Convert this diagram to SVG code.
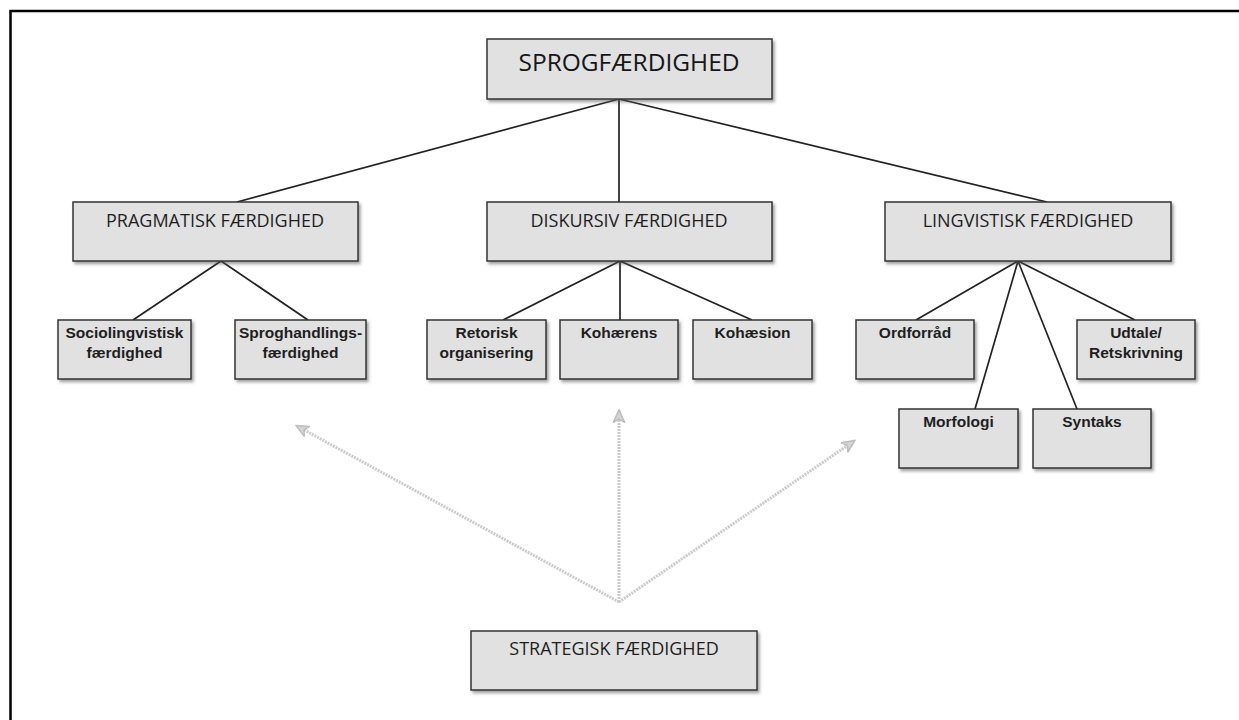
<svg xmlns="http://www.w3.org/2000/svg" width="1239" height="720" viewBox="0 0 1239 720">
<defs>
<filter id="sh" x="-10%" y="-10%" width="130%" height="140%">
<feDropShadow dx="2" dy="2.5" stdDeviation="1.6" flood-color="#555" flood-opacity="0.55"/>
</filter>
<marker id="ah" viewBox="0 0 12 12" refX="10" refY="6" markerWidth="5" markerHeight="5" orient="auto" markerUnits="strokeWidth">
<path d="M1,1.5 L11,6 L1,10.5 L3.5,6 Z" fill="#d4d4d4" stroke="#bdbdbd" stroke-width="1.2" stroke-linejoin="round"/>
</marker>
<style>
.box{fill:#e1e1e1;stroke:#333;stroke-width:1.5;filter:url(#sh)}
.t1{font-family:"Open Sans","DejaVu Sans",sans-serif;font-size:24.5px;fill:#161616;text-anchor:middle}
.t2{font-family:"Open Sans","DejaVu Sans",sans-serif;font-size:18px;fill:#1e1e1e;text-anchor:middle}
.t3{font-family:"Liberation Sans","DejaVu Sans",sans-serif;font-size:15.5px;font-weight:bold;fill:#1e1e1e;text-anchor:middle}
.ln{stroke:#222;stroke-width:1.7;fill:none}
.ar{stroke:#cbcbcb;stroke-width:3;fill:none;stroke-dasharray:2 1;marker-end:url(#ah)}
.frame{stroke:#000;stroke-width:2.5;fill:none}
</style>
</defs>
<rect width="1239" height="720" fill="#fff"/>
<path class="frame" d="M10.5,720 L10.5,11 L1239,11"/>

<g id="connectors">
<line class="ln" x1="619" y1="99" x2="237" y2="202"/>
<line class="ln" x1="619" y1="99" x2="619" y2="202"/>
<line class="ln" x1="619" y1="99" x2="1047" y2="202"/>
<line class="ln" x1="221" y1="261" x2="133" y2="320"/>
<line class="ln" x1="221" y1="261" x2="308" y2="320"/>
<line class="ln" x1="620" y1="261" x2="503" y2="320"/>
<line class="ln" x1="620" y1="261" x2="620" y2="320"/>
<line class="ln" x1="620" y1="261" x2="752" y2="320"/>
<line class="ln" x1="1018" y1="261" x2="916" y2="320"/>
<line class="ln" x1="1018" y1="261" x2="975" y2="409"/>
<line class="ln" x1="1018" y1="261" x2="1077" y2="409"/>
<line class="ln" x1="1018" y1="261" x2="1135" y2="320"/>
<line class="ar" x1="619" y1="602" x2="297" y2="426"/>
<line class="ar" x1="619" y1="602" x2="619" y2="411"/>
<line class="ar" x1="619" y1="602" x2="854" y2="441"/>
</g>

<g id="sprogfaerdighed">
<rect class="box" x="487" y="39" width="285" height="60"/>
<text class="t1" x="629" y="71">SPROGFÆRDIGHED</text>
</g>
<g id="pragmatisk">
<rect class="box" x="73" y="202" width="285" height="59"/>
<text class="t2" x="215" y="227">PRAGMATISK FÆRDIGHED</text>
</g>
<g id="diskursiv">
<rect class="box" x="487" y="202" width="285" height="59"/>
<text class="t2" x="629" y="227">DISKURSIV FÆRDIGHED</text>
</g>
<g id="lingvistisk">
<rect class="box" x="885" y="202" width="286" height="59"/>
<text class="t2" x="1028" y="227">LINGVISTISK FÆRDIGHED</text>
</g>
<g id="sociolingvistisk">
<rect class="box" x="58" y="320" width="133" height="59"/>
<text class="t3" x="124.5" y="338">Sociolingvistisk</text>
<text class="t3" x="124.5" y="358">færdighed</text>
</g>
<g id="sproghandlings">
<rect class="box" x="235" y="320" width="131" height="59"/>
<text class="t3" x="300.5" y="338">Sproghandlings-</text>
<text class="t3" x="300.5" y="358">færdighed</text>
</g>
<g id="retorisk">
<rect class="box" x="427" y="320" width="119" height="59"/>
<text class="t3" x="486.5" y="338">Retorisk</text>
<text class="t3" x="486.5" y="358">organisering</text>
</g>
<g id="kohaerens">
<rect class="box" x="560" y="320" width="118" height="59"/>
<text class="t3" x="619" y="338">Kohærens</text>
</g>
<g id="kohaesion">
<rect class="box" x="693" y="320" width="119" height="59"/>
<text class="t3" x="752.5" y="338">Kohæsion</text>
</g>
<g id="ordforraad">
<rect class="box" x="856" y="320" width="118" height="59"/>
<text class="t3" x="915" y="338">Ordforråd</text>
</g>
<g id="udtale">
<rect class="box" x="1077" y="320" width="118" height="59"/>
<text class="t3" x="1136" y="338">Udtale/</text>
<text class="t3" x="1136" y="358">Retskrivning</text>
</g>
<g id="morfologi">
<rect class="box" x="899" y="409" width="119" height="59"/>
<text class="t3" x="958.5" y="427">Morfologi</text>
</g>
<g id="syntaks">
<rect class="box" x="1033" y="409" width="118" height="59"/>
<text class="t3" x="1092" y="427">Syntaks</text>
</g>
<g id="strategisk">
<rect class="box" x="471" y="631" width="286" height="59"/>
<text class="t2" x="614" y="655">STRATEGISK FÆRDIGHED</text>
</g>
</svg>
